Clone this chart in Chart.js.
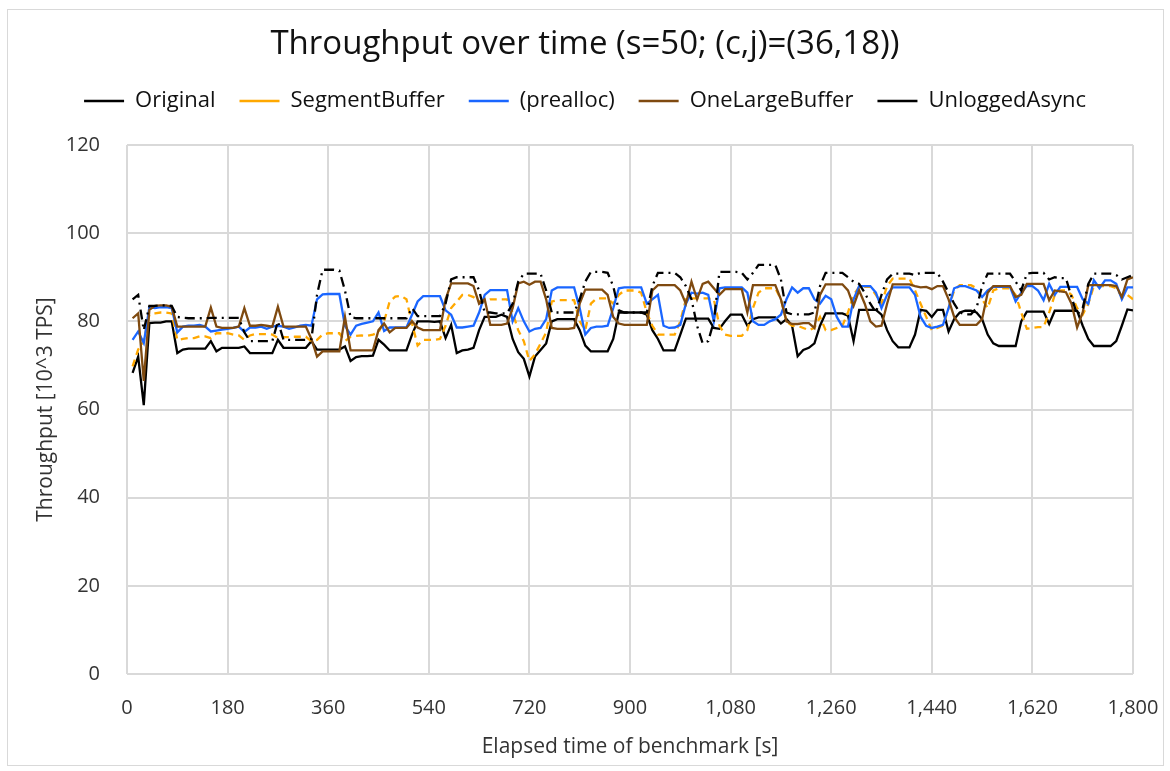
<!DOCTYPE html>
<html>
<head>
<meta charset="utf-8">
<title>Throughput over time</title>
<script src="https://cdn.jsdelivr.net/npm/chart.js@4.4.1/dist/chart.umd.min.js"></script>
<style>
  html, body { margin: 0; padding: 0; background: #fff; }
  #wrap { width: 1170px; height: 771px; }
</style>
</head>
<body>
<div id="wrap"><canvas id="throughputChart" width="1170" height="771"></canvas></div>
<script>
// elapsed time [s]
const times = [
  10, 20, 30, 40, 50, 60, 70, 80, 90, 100,
  110, 120, 130, 140, 150, 160, 170, 180, 190, 200,
  210, 220, 230, 240, 250, 260, 270, 280, 290, 300,
  310, 320, 330, 340, 350, 360, 370, 380, 390, 400,
  410, 420, 430, 440, 450, 460, 470, 480, 490, 500,
  510, 520, 530, 540, 550, 560, 570, 580, 590, 600,
  610, 620, 630, 640, 650, 660, 670, 680, 690, 700,
  710, 720, 730, 740, 750, 760, 770, 780, 790, 800,
  810, 820, 830, 840, 850, 860, 870, 880, 890, 900,
  910, 920, 930, 940, 950, 960, 970, 980, 990, 1000,
  1010, 1020, 1030, 1040, 1050, 1060, 1070, 1080, 1090, 1100,
  1110, 1120, 1130, 1140, 1150, 1160, 1170, 1180, 1190, 1200,
  1210, 1220, 1230, 1240, 1250, 1260, 1270, 1280, 1290, 1300,
  1310, 1320, 1330, 1340, 1350, 1360, 1370, 1380, 1390, 1400,
  1410, 1420, 1430, 1440, 1450, 1460, 1470, 1480, 1490, 1500,
  1510, 1520, 1530, 1540, 1550, 1560, 1570, 1580, 1590, 1600,
  1610, 1620, 1630, 1640, 1650, 1660, 1670, 1680, 1690, 1700,
  1710, 1720, 1730, 1740, 1750, 1760, 1770, 1780, 1790, 1800
];

// throughput [10^3 TPS], one value per time
const original = [
  68.3, 72, 61, 79.6, 79.7, 79.7, 80, 80, 72.8, 73.6,
  73.8, 73.8, 73.8, 73.8, 75.5, 73.2, 74, 74, 74, 74,
  74.3, 72.8, 72.8, 72.8, 72.8, 72.8, 75.8, 74, 74, 74,
  74, 74, 75.5, 73.6, 73.6, 73.6, 73.6, 73.6, 74.3, 71,
  71.9, 72.1, 72.1, 72.2, 75.8, 74.7, 73.4, 73.4, 73.4, 73.4,
  77, 80, 80, 80, 79.9, 80, 76.2, 79.2, 72.8, 73.4,
  73.6, 74, 78, 81, 81, 81, 81.5, 81, 76, 73,
  71.5, 67.5, 72, 73.5, 75, 80, 80.5, 80.5, 80.5, 80.5,
  78, 74.5, 73.2, 73.2, 73.2, 73.2, 76, 82, 82, 82,
  82, 82, 81.5, 78, 76, 73.4, 73.4, 73.4, 77, 80.6,
  80.6, 80.6, 80.6, 80.6, 78.5, 78.3, 80, 81.5, 81.5, 81.5,
  79, 80.5, 80.9, 80.9, 80.9, 80.9, 79.5, 80.5, 79, 72.1,
  73.5, 74, 75, 79, 81.8, 81.8, 81.8, 81.8, 81.3, 75.5,
  82.6, 82.6, 82.6, 82.6, 81.5, 78, 75.5, 74.1, 74.1, 74.1,
  77, 82.6, 82.4, 81, 82.6, 82.6, 77.7, 80.5, 82, 82.4,
  82.4, 82, 80.5, 77, 75, 74.4, 74.4, 74.4, 74.4, 80,
  82.2, 82.2, 82.2, 82.2, 79.4, 82.4, 82.4, 82.4, 82.4, 82.4,
  79, 76, 74.4, 74.4, 74.4, 74.4, 75.5, 79, 82.7, 82.5
];
const segmentBuffer = [
  69.8, 73.6, 75.5, 81.5, 81.8, 82, 82, 81.8, 75.8, 76,
  76.2, 76.2, 76.6, 76.6, 76.2, 77.3, 77.3, 77.3, 77, 76.8,
  75.8, 76.8, 77.1, 77.1, 77.1, 77, 76.2, 76.4, 76.4, 76.5,
  76.5, 76.5, 75.5, 75.8, 77, 77.3, 77.3, 77.3, 75.5, 76.5,
  76.7, 76.8, 76.7, 77, 77.5, 80, 84.5, 85.6, 85.8, 85,
  79.5, 74.5, 75.8, 75.8, 75.8, 76, 79, 83, 84.5, 86,
  86, 85.5, 84.5, 84.5, 85, 85, 85, 85, 82, 78,
  75.5, 71, 72.5, 75, 77.5, 84.5, 84.8, 84.8, 84.8, 84.8,
  80, 78, 84, 85.2, 85.2, 85.2, 84, 86, 87, 87,
  87, 86.5, 82, 79, 77, 77, 77, 77, 80, 85,
  85.2, 85.2, 85.2, 85.2, 85, 79, 77, 76.7, 76.7, 76.7,
  78, 83, 86.5, 87.5, 87.5, 87.5, 85, 80, 79, 79,
  78.5, 78, 78.5, 81, 78, 78, 78.5, 79, 82, 86,
  87.8, 87.8, 87.8, 86, 84, 88, 89.7, 89.7, 89.7, 89.7,
  87, 84, 81, 78, 78.5, 79, 83, 87, 88.2, 88.2,
  88.2, 87.5, 85, 83, 87, 87.5, 87.5, 87.5, 86, 82,
  78.3, 78.5, 78.7, 78.7, 82, 86, 87, 87, 86, 83,
  81.5, 84, 88, 88, 88, 88, 87.5, 85.6, 86, 85
];
const prealloc = [
  75.8, 77.7, 75.1, 83.2, 83, 83.2, 83.2, 83, 77.5, 78.8,
  79, 79, 79.2, 78.8, 77.7, 77.9, 78.1, 78.3, 78.5, 78.8,
  77.6, 78.6, 78.6, 78.8, 78.3, 78.8, 79, 78.8, 78.3, 78.6,
  79, 79.2, 79, 85, 86.1, 86.2, 86.2, 86.2, 79, 77,
  79, 79.4, 79.7, 80, 82, 77.8, 78.6, 78.6, 78.6, 78.6,
  81.5, 84.5, 85.7, 85.7, 85.7, 85.7, 82.5, 81.5, 78.6, 78.6,
  78.8, 79, 82, 86, 87.1, 87.1, 87.1, 87.1, 80, 83,
  80, 77.7, 78.3, 78.5, 80.5, 87, 87.7, 87.7, 87.7, 87.7,
  83, 77, 78.5, 78.8, 78.8, 79, 83, 87.5, 87.7, 87.7,
  87.7, 87.7, 84, 85, 86, 79, 78.5, 78.6, 79.2, 84,
  86.5, 86.3, 86.5, 86, 80, 87.5, 87.7, 87.7, 87.7, 87.7,
  86.5, 80, 79.2, 79.2, 80, 80.5, 81.5, 85, 87.7, 86.5,
  87.5, 87.5, 85, 84, 85.8, 85, 81, 78.8, 78.8, 85,
  88, 88, 88, 86.5, 83, 86, 87.7, 87.7, 87.7, 87.7,
  86, 81, 79, 78.5, 78.8, 79.2, 83, 87.5, 88, 88,
  87.5, 87, 85.5, 87, 87.8, 87.8, 87.8, 87.8, 84.5, 86.5,
  88, 88, 87, 84.8, 88.5, 86, 87.8, 87.8, 87.8, 87.8,
  85, 84, 89.3, 87.5, 89.3, 89.3, 88.5, 85, 87.7, 87.7
];
const oneLargeBuffer = [
  80.7, 81.8, 66.5, 82.6, 83.5, 83.6, 83.6, 83.3, 78.8, 78.8,
  78.8, 78.8, 78.8, 78.8, 83.1, 78.8, 78.5, 78.5, 78.5, 78.8,
  83, 79, 79, 79.2, 79, 78.8, 83.3, 78.8, 78.8, 78.8,
  78.8, 78.8, 76, 72, 73.2, 73.2, 73.2, 73.2, 81, 73.4,
  73.4, 73.4, 73.4, 73.4, 78, 79.5, 77.5, 78.5, 78.5, 78.5,
  80, 78.6, 78, 78, 78, 78, 85, 88.6, 88.6, 88.6,
  88.6, 88, 84, 85, 79.2, 79.2, 79.2, 79.5, 83, 88.6,
  89, 88.3, 89, 89, 85, 78.5, 78.3, 78.3, 78.3, 78.5,
  84, 87.2, 87.2, 87.2, 87.2, 86, 81, 79.5, 79.2, 79.2,
  79.2, 79.2, 79.2, 87, 88.2, 88.2, 88.2, 88.2, 87, 84,
  89, 85, 88.5, 89, 87.5, 86, 87.3, 87.3, 87.3, 87.3,
  82, 88.2, 88.2, 88.2, 88.2, 88.2, 85, 80, 79.4, 79.4,
  79.6, 79.6, 78.5, 86, 88.4, 88.4, 88.4, 88.4, 87, 83.5,
  87, 84, 80, 78.8, 79, 84, 88.4, 88.4, 88.4, 88.4,
  88, 87.7, 87.8, 87.3, 88, 88, 85, 81, 79.2, 79.2,
  79.2, 79.2, 80.5, 86.5, 88, 88, 88, 88, 85.5, 86,
  88.5, 88.5, 88.5, 88.5, 84.8, 87, 86.8, 86.6, 84, 78.6,
  82, 88.2, 88.2, 88.2, 88.2, 88.2, 88, 85.5, 89.5, 90
];
const unloggedAsync = [
  85, 86, 78, 83.5, 83.5, 83.6, 83.6, 83.5, 81, 80.8,
  80.7, 80.7, 80.7, 80.7, 80.8, 80.8, 80.8, 80.8, 80.8, 80.8,
  77.5, 75.5, 75.5, 75.5, 75.5, 75.5, 80, 75.8, 75.8, 75.8,
  75.8, 75.8, 76, 86, 91.7, 91.7, 91.7, 91.5, 87, 81,
  80.7, 80.7, 80.7, 80.7, 80.7, 80.7, 80.7, 80.7, 80.7, 80.7,
  83, 81.2, 81.2, 81.2, 81.2, 81.2, 84, 89.5, 90, 90,
  90, 90, 87, 82, 82, 81.8, 81.8, 81.8, 84, 89,
  90.8, 90.8, 90.8, 90.8, 87, 82, 82, 82, 82, 82,
  85, 89, 91.2, 91.2, 91.2, 91, 88, 82.5, 82, 82,
  82, 82, 82, 88, 91, 91, 91, 91, 90, 88,
  85, 79, 75, 75.5, 80, 91.2, 91.2, 91.2, 91.2, 91,
  89.5, 91, 92.8, 92.8, 92.8, 92.8, 89.5, 82, 81.6, 81.6,
  81.6, 81.6, 82, 88, 91, 91, 91, 91, 90, 89,
  88.5, 86.5, 84, 82, 86, 89.5, 90.8, 90.8, 90.8, 90.8,
  90.5, 91, 91, 91, 91, 89, 86.5, 84, 82, 81.6,
  81.6, 83, 88, 90.8, 90.8, 90.8, 90.8, 90.8, 89, 87,
  90.8, 91, 91, 91, 89.5, 90, 89.8, 89.8, 85.5, 81.5,
  83, 88.5, 90.8, 90.8, 90.8, 90.8, 90.5, 89.5, 90, 90.5
];

const FONT = '"Open Sans", "Noto Sans", sans-serif';
Chart.defaults.font.family = FONT;
Chart.defaults.color = '#333';

// white background and the thin frame around the whole chart
const chartFrame = {
  id: 'chartFrame',
  beforeLayout(chart) {
    // leave more room between the legend row and the plot, like the original
    const lg = chart.legend;
    if (lg && !lg._roomPatched) {
      const fit = lg.fit;
      lg.fit = function () { fit.call(this); this.height += 23; };
      lg._roomPatched = true;
    }
  },
  beforeDraw(chart) {
    const ctx = chart.ctx;
    ctx.save();
    ctx.fillStyle = '#fff';
    ctx.fillRect(0, 0, chart.width, chart.height);
    ctx.strokeStyle = '#d9d9d9';
    ctx.lineWidth = 1;
    ctx.strokeRect(7.5, 9.5, 1156, 756);
    ctx.restore();
  }
};

function series(label, data, color, dash, order) {
  return {
    label: label,
    data: data,
    borderColor: color,
    backgroundColor: color,
    borderWidth: 2.3,
    borderDash: dash,
    pointRadius: 0,
    tension: 0,
    fill: false,
    order: order
  };
}

const ctx = document.getElementById('throughputChart').getContext('2d');
const throughputChart = new Chart(ctx, {
  type: 'line',
  data: {
    labels: times,
    datasets: [
      series('Original', original, '#000000', [], 5),
      series('SegmentBuffer', segmentBuffer, '#ffa800', [7, 5], 4),
      series('(prealloc)', prealloc, '#1a66ff', [], 3),
      series('OneLargeBuffer', oneLargeBuffer, '#7f4a10', [], 2),
      series('UnloggedAsync', unloggedAsync, '#000000', [10, 5, 2, 5], 1)
    ]
  },
  options: {
    responsive: false,
    animation: false,
    devicePixelRatio: 1,
    layout: { padding: 0 },
    plugins: {
      title: {
        display: true,
        text: 'Throughput over time (s=50; (c,j)=(36,18))',
        font: { size: 33, weight: 'normal' },
        color: '#111',
        padding: { top: 25, bottom: 1.4 }
      },
      legend: {
        position: 'top',
        labels: {
          usePointStyle: true,
          pointStyle: 'line',
          pointStyleWidth: 40,
          padding: 24,
          font: { size: 22 },
          color: '#111',
          sort: (a, b) => a.datasetIndex - b.datasetIndex
        }
      },
      tooltip: { enabled: false }
    },
    scales: {
      x: {
        type: 'linear',
        min: 0,
        max: 1800,
        afterFit: (scale) => { scale.height = 97; },
        ticks: {
          stepSize: 180,
          padding: 0,
          font: { size: 20 },
          color: '#333',
          maxRotation: 0,
          callback: (v) => v.toLocaleString('en-US')
        },
        // invisible tick marks push the labels down without widening the side padding
        grid: { color: '#d9d9d9', lineWidth: 2, drawTicks: true, tickLength: 22, tickColor: 'rgba(0,0,0,0)' },
        border: { display: false },
        title: {
          display: true,
          text: 'Elapsed time of benchmark [s]',
          font: { size: 21 },
          color: '#333',
          padding: { top: 0, bottom: 11 }
        }
      },
      y: {
        min: 0,
        max: 120,
        afterFit: (scale) => { scale.width = 127; },
        ticks: {
          stepSize: 20,
          padding: 27,
          font: { size: 20 },
          color: '#333'
        },
        grid: { color: '#d9d9d9', lineWidth: 2, drawTicks: false },
        border: { display: false },
        title: {
          display: true,
          text: 'Throughput [10^3 TPS]',
          font: { size: 21 },
          color: '#333',
          padding: { top: 33, bottom: 0 }
        }
      },
      // empty right-hand margin so the plot ends where the original does
      rightMargin: {
        position: 'right',
        afterFit: (scale) => { scale.width = 37; },
        ticks: { display: false },
        grid: { display: false },
        border: { display: false }
      }
    }
  },
  plugins: [chartFrame]
});
</script>
</body>
</html>
